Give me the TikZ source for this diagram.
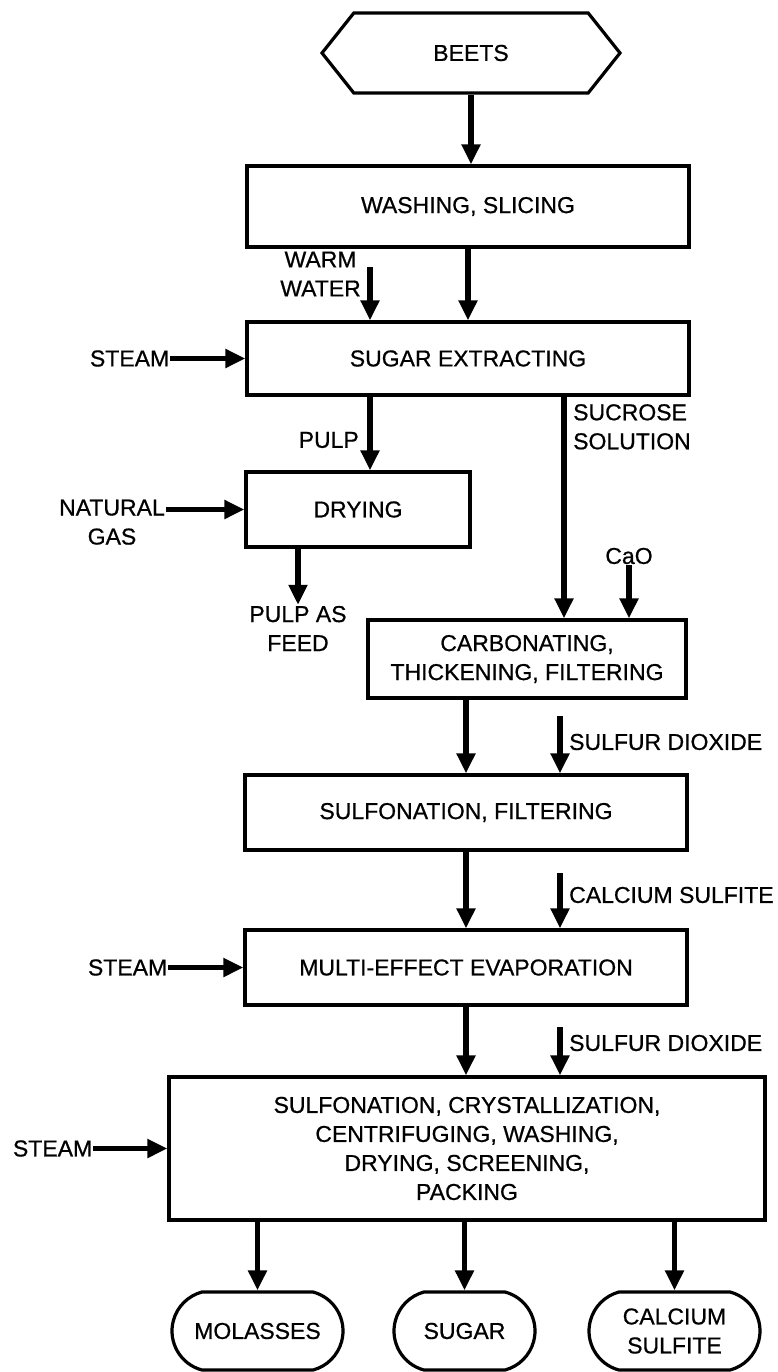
\documentclass[tikz,border=0pt]{standalone}
\usepackage{fontspec}
\setmainfont{Liberation Sans}[FakeBold=0.7]
\usetikzlibrary{shapes.symbols, shapes.misc, arrows.meta, positioning}

\begin{document}
\begin{tikzpicture}[
    x=1pt, y=-1pt,
    txt/.style={font=\fontsize{23}{29}\selectfont, align=center},
    box/.style={txt, draw, line width=3.2pt, minimum width=442pt, minimum height=75pt, inner sep=2pt},
    hexa/.style={txt, draw, line width=3.2pt, signal, signal to=west and east, signal pointer angle=103, minimum width=298pt, minimum height=80pt},
    product/.style={txt, draw, line width=3.2pt, rounded rectangle, rounded rectangle arc length=150, minimum height=78pt, inner sep=2pt},
    lbl/.style={txt, inner sep=1pt},
    flow/.style={line width=5.5pt, -{Triangle[length=20pt, width=18pt]}},
]
    \useasboundingbox (0,0) rectangle (778,1372);

    \node[hexa] (beets) at (471,53) {BEETS};
    \node[box, minimum height=81pt] (wash) at (468,206.5) {WASHING, SLICING};
    \node[box, minimum height=73pt] (extract) at (468,358.5) {SUGAR EXTRACTING};
    \node[box, minimum width=224pt] (dry) at (358,509.5) {DRYING};
    \node[box, minimum width=318pt, minimum height=78pt] (carb) at (527,659) {CARBONATING,\\THICKENING, FILTERING};
    \node[box] (sulf) at (466,812.5) {SULFONATION, FILTERING};
    \node[box] (evap) at (466,967.5) {MULTI-EFFECT EVAPORATION};
    \node[box, minimum width=596pt, minimum height=143pt] (cryst) at (467,1148.5) {SULFONATION, CRYSTALLIZATION,\\CENTRIFUGING, WASHING,\\DRYING, SCREENING,\\PACKING};

    \node[product, minimum width=175pt] (molasses) at (257.5,1331) {MOLASSES};
    \node[product, minimum width=145pt] (sugar) at (464.5,1331) {SUGAR};
    \node[product, minimum width=175pt] (casulf) at (674.5,1331) {CALCIUM\\SULFITE};

    \node[lbl, anchor=east] (water) at (362,274) {WARM\\WATER};
    \node[lbl, left=75pt of extract] (steama) {STEAM};
    \node[lbl, anchor=east] (pulp) at (360,440) {PULP};
    \node[lbl, anchor=north west, align=left] (sucrose) at (572,403) {SUCROSE\\SOLUTION};
    \node[lbl, anchor=north east] (gas) at (166,498.5) {NATURAL\\GAS};
    \node[lbl] (feed) at (298,628.5) {PULP AS\\FEED};
    \node[lbl] (cao) at (629,556) {CaO};
    \node[lbl, anchor=west] (so2a) at (568,742) {SULFUR DIOXIDE};
    \node[lbl, anchor=west] (caso3) at (568,895) {CALCIUM SULFITE};
    \node[lbl, left=75pt of evap] (steamb) {STEAM};
    \node[lbl, anchor=west] (so2b) at (568,1043) {SULFUR DIOXIDE};
    \node[lbl, left=74pt of cryst] (steamc) {STEAM};

    \coordinate (watertop) at (370,267);
    \coordinate (so2atop) at (560,716);
    \coordinate (caso3top) at (560,873);
    \coordinate (so2btop) at (560,1027);

    \draw[flow] (beets.south) -- (beets.south |- wash.north);
    \draw[flow] (wash) -- (extract);
    \draw[flow] (watertop) -- (watertop |- extract.north);
    \draw[flow] (steama) -- (extract);
    \draw[flow] ([xshift=-98pt]extract.south) -- ([xshift=12pt]dry.north);
    \draw[flow] ([xshift=96pt]extract.south) -- ([xshift=37pt]carb.north);
    \draw[flow] (gas.east |- dry.west) -- (dry.west);
    \draw[flow] (feed.north |- dry.south) -- (feed.north);
    \draw[flow] (cao.south) -- (cao.south |- carb.north);
    \draw[flow] (sulf.north |- carb.south) -- (sulf.north);
    \draw[flow] (so2atop) -- (so2atop |- sulf.north);
    \draw[flow] (sulf) -- (evap);
    \draw[flow] (caso3top) -- (caso3top |- evap.north);
    \draw[flow] (steamb) -- (evap);
    \draw[flow] (evap.south) -- (evap.south |- cryst.north);
    \draw[flow] (so2btop) -- (so2btop |- cryst.north);
    \draw[flow] (steamc) -- (cryst);
    \draw[flow] (molasses.north |- cryst.south) -- (molasses.north);
    \draw[flow] (sugar.north |- cryst.south) -- (sugar.north);
    \draw[flow] (casulf.north |- cryst.south) -- (casulf.north);
\end{tikzpicture}
\end{document}
